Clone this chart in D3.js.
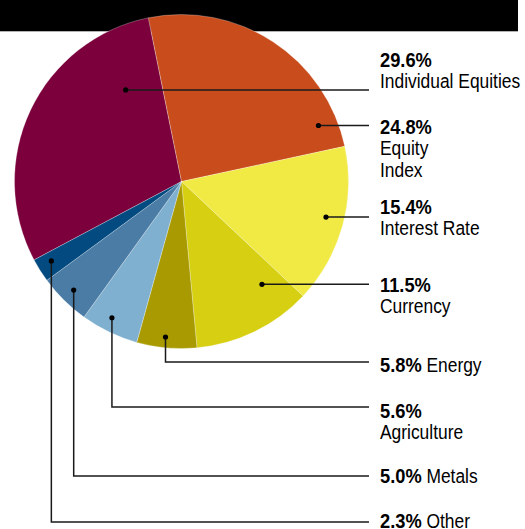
<!DOCTYPE html>
<html>
<head>
<meta charset="utf-8">
<script src="https://cdn.jsdelivr.net/npm/d3@7"></script>
<style>
  body { margin: 0; background: #fff; }
  svg { display: block; }
</style>
</head>
<body>
<script>
// chart data
const categories = ["Individual Equities", "Equity Index", "Interest Rate", "Currency", "Energy", "Agriculture", "Metals", "Other"];
const shares = [29.6, 24.8, 15.4, 11.5, 5.8, 5.6, 5.0, 2.3];
const nameLines = [["Individual Equities"], ["Equity", "Index"], ["Interest Rate"], ["Currency"], ["Energy"], ["Agriculture"], ["Metals"], ["Other"]];
const inlineName = [false, false, false, false, true, false, true, true];

// styling / layout
const colors = ["#7b003c", "#c84c1c", "#f1e944", "#d7cf12", "#a89a00", "#80b0d0", "#4a7ca6", "#024a7f"];
const pie = { cx: 181.5, cy: 181.5, r: 167, startDeg: -118 };
// where the dot sits inside its slice: [fraction of the slice angle, fraction of the radius]
const dotAt = [[0.813, 0.642], [0.887, 0.886], [0.469, 0.891], [0.21, 0.782], [0.536, 0.936], [0.57, 0.916], [0.505, 0.916], [0.59, 0.913]];
const elbowY = [null, null, null, null, 362, 407, 476, 522];
const labelBaseY = [67, 134, 214, 292, 372, 418, 483, 528];
const lineEndX = 369, labelX = 380, lineGap = 21.5;
// no condensed face is installed, so squeeze Liberation Sans horizontally
const font = { family: "'Liberation Sans', Arial, sans-serif", size: 20, boldSize: 21, squeeze: 0.87 };

const W = 525, H = 529;
const rad = d => d * Math.PI / 180;

const svg = d3.select("body").append("svg")
    .attr("width", W)
    .attr("height", H);

// black band across the top
svg.append("rect")
    .attr("x", 0).attr("y", 0)
    .attr("width", 518).attr("height", 31.3)
    .attr("fill", "#000");

const arcs = d3.pie()
    .sort(null)
    .value(d => d)
    .startAngle(rad(pie.startDeg))
    .endAngle(rad(pie.startDeg + 360))(shares);

const arcGen = d3.arc().innerRadius(0).outerRadius(pie.r);

const g = svg.append("g").attr("transform", `translate(${pie.cx},${pie.cy})`);

g.selectAll("path.slice")
    .data(arcs)
    .enter()
    .append("path")
      .attr("class", "slice")
      .attr("d", arcGen)
      .attr("fill", (d, i) => colors[i])
      .attr("stroke", "rgba(255,255,255,0.45)")
      .attr("stroke-width", 0.6);

// dot positions from the arc geometry
const dots = arcs.map((a, i) => {
    const ang = a.startAngle + dotAt[i][0] * (a.endAngle - a.startAngle);
    const rr = pie.r * dotAt[i][1];
    return { x: pie.cx + rr * Math.sin(ang), y: pie.cy - rr * Math.cos(ang) };
});

// leader lines
svg.selectAll("path.leader")
    .data(dots)
    .enter()
    .append("path")
      .attr("class", "leader")
      .attr("d", (p, i) => {
          if (elbowY[i] === null) return `M${p.x},${p.y}H${lineEndX}`;
          return `M${p.x},${p.y}V${elbowY[i]}H${lineEndX}`;
      })
      .attr("fill", "none")
      .attr("stroke", "#1a1a1a")
      .attr("stroke-width", 1.5);

svg.selectAll("circle.dot")
    .data(dots)
    .enter()
    .append("circle")
      .attr("class", "dot")
      .attr("cx", p => p.x)
      .attr("cy", p => p.y)
      .attr("r", 2.6)
      .attr("fill", "#000");

// labels
const labels = svg.selectAll("text.label")
    .data(categories)
    .enter()
    .append("text")
      .attr("class", "label")
      .attr("transform", `translate(${labelX},0) scale(${font.squeeze},1)`)
      .attr("x", 0)
      .attr("y", (d, i) => labelBaseY[i])
      .attr("font-family", font.family)
      .attr("font-size", font.size)
      .attr("fill", "#000");

labels.each(function (d, i) {
    const t = d3.select(this);
    t.append("tspan")
        .attr("font-weight", "bold")
        .attr("font-size", font.boldSize)
        .text(shares[i].toFixed(1) + "%");
    if (inlineName[i]) {
        t.append("tspan").text(" " + nameLines[i][0]);
    } else {
        nameLines[i].forEach((line, k) => {
            t.append("tspan")
                .attr("x", 0)
                .attr("y", labelBaseY[i] + lineGap * (k + 1))
                .text(line);
        });
    }
});
</script>
</body>
</html>
